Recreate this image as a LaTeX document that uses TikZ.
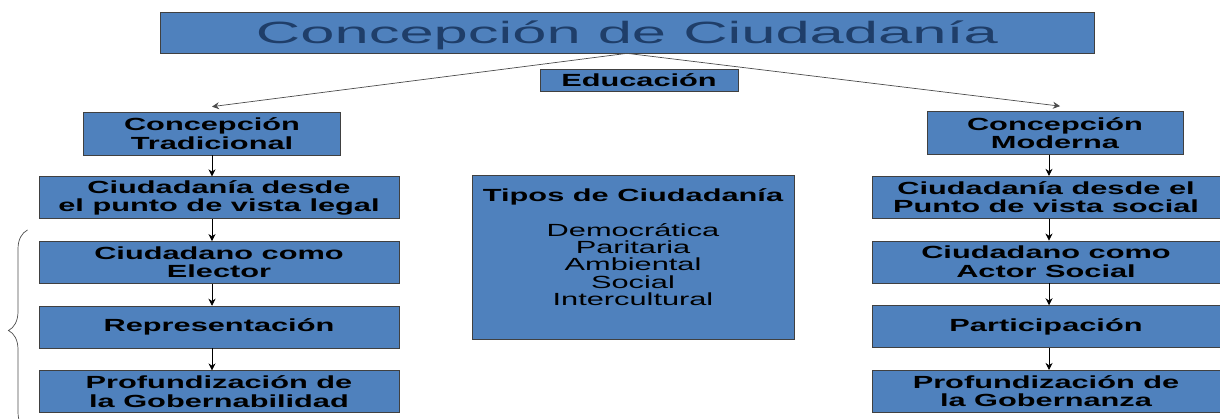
\documentclass[tikz,border=0pt]{standalone}
\usepackage{fontspec}
\setmainfont{Liberation Sans}[FakeStretch=1.75]
\newfontfamily\titlefont{Liberation Sans}[FakeStretch=2.0]
\usepackage{tikz}
\usetikzlibrary{
    positioning,
    arrows.meta,
    decorations.pathreplacing
}
\definecolor{boxBlue}{RGB}{79, 129, 189}
\definecolor{titleBlue}{RGB}{31, 62, 105}

\tikzset{
    cbox/.style={draw=black!75, fill=boxBlue, align=center, inner sep=1pt,
        font=\fontsize{10}{10.5}\selectfont\bfseries},
    colbox/.style={cbox, minimum width=7.2cm, minimum height=0.84cm}
}

\begin{document}
\begin{tikzpicture}[scale=1.0, >={Stealth[length=4pt, width=4pt]}]
        \useasboundingbox (0,0) rectangle (24.4,-8.38);

        % Title and link
        \node[cbox, minimum width=18.68cm, minimum height=0.82cm, text=titleBlue, text height=13pt, text depth=0pt,
            font=\titlefont\fontsize{17.5}{18}\selectfont] (title) at (12.54,-0.65) {Concepción de Ciudadanía};
        \node[cbox, minimum width=3.96cm, minimum height=0.44cm] (edu) at (12.78,-1.6) {Educación};

        % Traditional side
        \node[cbox, minimum width=5.14cm, minimum height=0.86cm] (trad) at (4.24,-2.67) {Concepción\\Tradicional};
        \node[colbox, below=0.42cm of trad, xshift=0.14cm] (legal) {Ciudadanía desde\\el punto de vista legal};
        \node[colbox, below=0.44cm of legal] (elector) {Ciudadano como\\Elector};
        \node[colbox, below=0.44cm of elector] (repres) {Representación};
        \node[colbox, below=0.44cm of repres] (gobern) {Profundización de\\la Gobernabilidad};

        % Modern side
        \node[cbox, minimum width=5.12cm, minimum height=0.86cm] (mod) at (21.1,-2.66) {Concepción\\Moderna};
        \node[colbox, minimum width=6.96cm, below=0.42cm of mod, xshift=-0.18cm] (social) {Ciudadanía desde el\\Punto de vista social};
        \node[colbox, minimum width=6.96cm, below=0.44cm of social] (actor) {Ciudadano como\\Actor Social};
        \node[colbox, minimum width=6.96cm, below=0.44cm of actor] (partic) {Participación};
        \node[colbox, minimum width=6.96cm, below=0.44cm of partic] (gobza) {Profundización de\\la Gobernanza};

        % Types
        \node[cbox, minimum width=6.44cm, minimum height=3.28cm, anchor=north,
            font=\fontsize{10}{9.8}\selectfont\bfseries] (tipos) at (12.66,-3.5)
            {Tipos de Ciudadanía\\[10pt]
             \mdseries Democrática\\ \mdseries Paritaria\\ \mdseries Ambiental\\
             \mdseries Social\\ \mdseries Intercultural\\[2pt]};

        % Connectors
        \draw[->, black!70] (title.south) -- ([yshift=0.1cm]trad.north);
        \draw[->, black!70] (title.south) -- ([xshift=0.1cm, yshift=0.1cm]mod.north);
        \foreach \a/\b in {trad/legal, legal/elector, elector/repres, repres/gobern}
            \draw[->] (trad.south |- \a.south) -- (trad.south |- \b.north);
        \foreach \a/\b in {mod/social, social/actor, actor/partic, partic/gobza}
            \draw[->] ([xshift=-0.12cm]mod.south |- \a.south) -- ([xshift=-0.12cm]mod.south |- \b.north);

        % Brace
        \draw[black!70, decorate, decoration={brace, amplitude=0.38cm}] (0.55,-8.62) -- (0.55,-4.6);
    \end{tikzpicture}
\end{document}
